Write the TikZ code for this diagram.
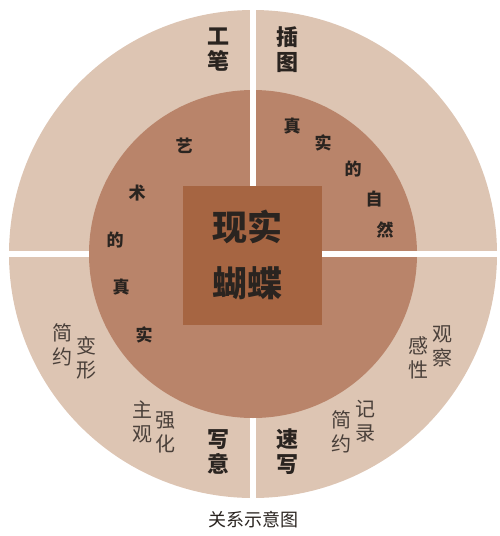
\documentclass[tikz,border=0pt]{standalone}
\usepackage{fontspec}
\setmainfont{Noto Sans CJK SC}
\newfontfamily\cjk{Noto Sans CJK SC}
\definecolor{ringlight}{HTML}{DDC5B3}
\definecolor{ringmid}{HTML}{B9846A}
\definecolor{boxdark}{HTML}{A66542}
\definecolor{textdark}{HTML}{2A2420}
\definecolor{textgray}{HTML}{4A403A}
\tikzset{
  quadlabel/.style={font=\cjk\bfseries\fontsize{22}{25}\selectfont, text=textdark, align=center, inner sep=0pt},
  arcchar/.style={font=\cjk\bfseries\fontsize{17}{17}\selectfont, text=textdark, inner sep=0pt},
  ringnote/.style={font=\cjk\fontsize{20}{24}\selectfont, text=textgray, align=center, inner sep=0pt},
  centertext/.style={font=\cjk\bfseries\fontsize{35}{35}\selectfont, text=textdark, inner sep=0pt}
}
\begin{document}
\begin{tikzpicture}[x=1pt,y=-1pt]
    \def\cx{253}
    \def\cy{254}
    \def\rout{244}
    \def\rin{164}

    \useasboundingbox (0,0) rectangle (500,536);

    % outer ring
    \fill[ringlight] (\cx,\cy) circle (\rout);

    % gaps in the outer ring
    \fill[white] (250,0) rectangle (256,536);
    \fill[white] (0,251) rectangle (500,257);

    % inner circle
    \fill[ringmid] (\cx,\cy) circle (\rin);

    % gaps in the inner circle
    \fill[white] (250,0) rectangle (256,186);
    \fill[white] (322,251) rectangle (500,257);

    % center box
    \fill[boxdark] (183,186) rectangle (322,325);
    \node[centertext] (real) at (247,227) {现实};
    \node[centertext] (butterfly) at (247,283) {蝴蝶};

    % quadrant labels
    \node[quadlabel] (gongbi) at (218,50) {工\\笔};
    \node[quadlabel] (chatu) at (287,50) {插\\图};
    \node[quadlabel] (xieyi) at (218,452) {写\\意};
    \node[quadlabel] (suxie) at (287,452) {速\\写};

    % left arc
    \node[arcchar] (yi) at (184,146) {艺};
    \node[arcchar] (shu) at (137,193) {术};
    \node[arcchar] (dea) at (115,240) {的};
    \node[arcchar] (zhena) at (121,287) {真};
    \node[arcchar] (shia) at (144,335) {实};

    % right arc
    \node[arcchar] (zhenb) at (292,126) {真};
    \node[arcchar] (shib) at (323,143) {实};
    \node[arcchar] (deb) at (353,169) {的};
    \node[arcchar] (zi) at (374,199) {自};
    \node[arcchar] (ran) at (385,230) {然};

    % ring notes
    \node[ringnote] (jianyuea) at (62,345) {简\\约};
    \node[ringnote] (bianxing) at (86,358) {变\\形};
    \node[ringnote] (zhuguan) at (142,422) {主\\观};
    \node[ringnote] (qianghua) at (165,432) {强\\化};
    \node[ringnote] (guancha) at (442,346) {观\\察};
    \node[ringnote] (ganxing) at (418,358) {感\\性};
    \node[ringnote] (jilu) at (365,421) {记\\录};
    \node[ringnote] (jianyueb) at (341,432) {简\\约};

    % caption
    \node[font=\cjk\fontsize{18}{18}\selectfont, text=textdark] (caption) at (253,520) {关系示意图};

\end{tikzpicture}
\end{document}
